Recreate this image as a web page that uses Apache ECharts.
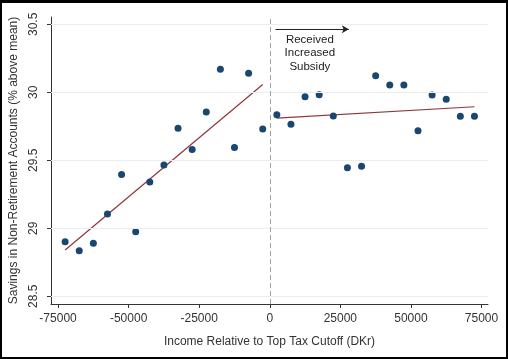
<!DOCTYPE html>
<html>
<head>
<meta charset="utf-8">
<script src="https://cdn.jsdelivr.net/npm/echarts@6/dist/echarts.min.js"></script>
<style>
html,body{margin:0;padding:0;background:#fff;}
#frame{position:absolute;left:0;top:0;width:504px;height:354px;border-style:solid;border-color:#000;border-width:3px 2px 2px 2px;}
#chart{position:absolute;left:0;top:0;width:508px;height:359px;}
</style>
</head>
<body>
<div id="chart"></div>
<div id="frame"></div>
<script>
// Binned income (DKr, relative to cutoff)
const binsLeft = [-72500,-67500,-62500,-57500,-52500,-47500,-42500,-37500,-32500,-27500,-22500,-17500,-12500,-7500,-2500];
const savingsLeft = [28.90,28.835,28.89,29.105,29.395,28.975,29.34,29.465,29.735,29.58,29.855,30.17,29.595,30.14,29.73];
const binsRight = [2500,7500,12500,17500,22500,27500,32500,37500,42500,47500,52500,57500,62500,67500,72500];
const savingsRight = [29.835,29.765,29.968,29.982,29.826,29.446,29.456,30.122,30.054,30.054,29.718,29.98,29.949,29.824,29.824];
// Fitted lines (endpoints)
const fitLeftX = [-72500,-2500];
const fitLeftY = [28.84,30.058];
const fitRightX = [2500,72500];
const fitRightY = [29.81,29.894];
// Tick labels
const xTicks = [-75000,-50000,-25000,0,25000,50000,75000];
const yTicks = [28.5,29,29.5,30,30.5];
// Annotation
const arrowX = [2000,28000];
const arrowY = 30.463;
const noteText = 'Received\nIncreased\nSubsidy';
const notePos = [14200, 30.29];

const navy = '#1a476f';
const maroon = '#90353b';
const txt = '#333333';
const font = '"Liberation Sans", Arial, sans-serif';

const chart = echarts.init(document.getElementById('chart'), null, {renderer:'canvas'});
const option = {
  animation:false,
  textStyle:{fontFamily:font},
  grid:{left:51,right:20,top:17,bottom:55,containLabel:false},
  xAxis:{
    type:'value', min:-77500, max:77300,
    name:'Income Relative to Top Tax Cutoff (DKr)', nameLocation:'middle', nameGap:32,
    nameTextStyle:{color:txt,fontSize:12,fontFamily:font},
    axisLine:{show:true,onZero:false,lineStyle:{color:'#333',width:1}},
    axisTick:{show:true,customValues:xTicks,length:4,lineStyle:{color:'#333'}},
    axisLabel:{customValues:xTicks,color:txt,fontSize:12,margin:9,fontFamily:font,formatter:v=>String(v)},
    splitLine:{show:false}
  },
  yAxis:{
    type:'value', min:28.443, max:30.554,
    name:'Savings in Non-Retirement Accounts (% above mean)', nameLocation:'middle', nameGap:31,
    nameTextStyle:{color:txt,fontSize:12,fontFamily:font},
    axisLine:{show:true,onZero:false,lineStyle:{color:'#333',width:1}},
    axisTick:{show:true,customValues:yTicks,length:4,lineStyle:{color:'#333'}},
    axisLabel:{customValues:yTicks,color:txt,fontSize:12,rotate:90,margin:11,fontFamily:font,formatter:v=>String(v)},
    splitLine:{show:false}
  },
  series:[
    {
      type:'line', data:yTicks.map(v=>[0,v]), symbol:'none', lineStyle:{opacity:0}, silent:true,
      markLine:{silent:true,symbol:'none',label:{show:false},animation:false,
        lineStyle:{color:'#e6eef0',type:'solid',width:1},
        data:yTicks.map(v=>({yAxis:v}))}
    },
    {
      type:'line', data:[], silent:true,
      markLine:{silent:true,symbol:'none',label:{show:false},animation:false,
        lineStyle:{color:'#a0a0a0',type:[5,3],width:1},
        data:[{xAxis:0}]}
    },
    {
      type:'line', data:fitLeftX.map((x,i)=>[x,fitLeftY[i]]), symbol:'none',
      lineStyle:{color:maroon,width:1.2}, z:3
    },
    {
      type:'line', data:fitRightX.map((x,i)=>[x,fitRightY[i]]), symbol:'none',
      lineStyle:{color:maroon,width:1.2}, z:3
    },
    {
      type:'scatter', data:binsLeft.map((x,i)=>[x,savingsLeft[i]]), symbolSize:7,
      itemStyle:{color:navy,opacity:1}, z:4
    },
    {
      type:'scatter', data:binsRight.map((x,i)=>[x,savingsRight[i]]), symbolSize:7,
      itemStyle:{color:navy,opacity:1}, z:4
    },
    {
      type:'line', data:[], silent:true,
      markLine:{silent:true,symbol:['none','arrow'],symbolSize:[6,7],label:{show:false},animation:false,
        lineStyle:{color:'#222',type:'solid',width:1},
        data:[[{coord:[arrowX[0],arrowY]},{coord:[arrowX[1],arrowY]}]]},
      markPoint:{silent:true,symbol:'circle',symbolSize:0,animation:false,
        data:[{coord:notePos,label:{show:true,position:'inside',formatter:noteText,color:'#222',fontSize:11.5,lineHeight:13.5,fontFamily:font,align:'center'}}]}
    }
  ]
};
chart.setOption(option);
</script>
</body>
</html>
